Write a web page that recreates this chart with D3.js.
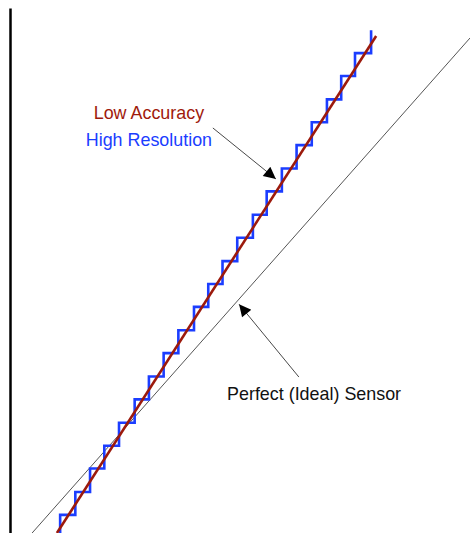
<!DOCTYPE html>
<html>
<head>
<meta charset="utf-8">
<script src="https://cdn.jsdelivr.net/npm/d3@7"></script>
<style>
  body { margin: 0; background: #fff; }
  svg { display: block; font-family: "Liberation Sans", Arial, sans-serif; }
</style>
</head>
<body>
<div id="chart"></div>
<script>
const width = 470, height = 533;

// input (true value) vs sensor output, both in % of full scale
const idealLine = [{ x: 0, y: 0 }, { x: 100, y: 100 }];
const accuracyLine = [{ x: 10.2, y: 4.8 }, { x: 79.6, y: 100.4 }];

// quantised reading: input where each code starts, and output level of each code
const stepInputs = [10.9, 14.2, 17.4, 20.5, 23.7, 27.1, 30.2, 33.4, 36.6, 40.0,
                    43.1, 46.2, 49.4, 52.8, 55.8, 59.1, 62.3, 65.6, 68.9, 72.0, 75.0, 78.5];
const stepLevels = [8.3, 12.7, 17.2, 21.6, 26.0, 30.5, 34.9, 39.4, 43.8, 48.3,
                    52.7, 57.1, 61.6, 66.0, 70.5, 74.9, 79.4, 83.8, 88.2, 92.7, 97.1];
const stepStart = 4.8, stepEnd = 101.5;

const labels = [
  { text: "Low Accuracy", x: 30.2, y: 84.4, color: "#a01a0c" },
  { text: "High Resolution", x: 30.2, y: 79.2, color: "#1b3dff" },
  { text: "Perfect (Ideal) Sensor", x: 66.1, y: 30.4, color: "#111" }
];
const arrows = [
  { from: [44.1, 82.7], to: [57.8, 72.9] },
  { from: [62.8, 34.8], to: [49.8, 48.8] }
];

const x = d3.scaleLinear().domain([0, 100]).range([10, 470]);
const y = d3.scaleLinear().domain([0, 105.77]).range([558, 8]);

const svg = d3.select("#chart")
  .append("svg")
  .attr("width", width)
  .attr("height", height);

svg.append("defs").append("marker")
  .attr("id", "head")
  .attr("viewBox", "0 0 10 10")
  .attr("refX", 10)
  .attr("refY", 5)
  .attr("markerUnits", "userSpaceOnUse")
  .attr("markerWidth", 15)
  .attr("markerHeight", 12)
  .attr("orient", "auto")
  .append("path")
  .attr("d", "M0,0L10,5L0,10Z")
  .attr("fill", "#000");

// left axis, no ticks
const axis = svg.append("g")
  .attr("transform", `translate(${x(0)},0)`)
  .call(d3.axisLeft(y).tickValues([]).tickSizeOuter(0));
axis.select(".domain").attr("stroke", "#000").attr("stroke-width", 2.5);

const line = d3.line()
  .x(d => x(d.x))
  .y(d => y(d.y));

svg.append("path")
  .datum(idealLine)
  .attr("fill", "none")
  .attr("stroke", "#555")
  .attr("stroke-width", 1)
  .attr("d", line);

const steps = [{ x: stepInputs[0], y: stepStart }];
stepLevels.forEach((lv, i) => steps.push({ x: stepInputs[i + 1], y: lv }));
steps.push({ x: stepInputs[stepInputs.length - 1], y: stepEnd });

svg.append("path")
  .datum(steps)
  .attr("fill", "none")
  .attr("stroke", "#1b3dff")
  .attr("stroke-width", 2.6)
  .attr("d", line.curve(d3.curveStepBefore));

svg.append("path")
  .datum(accuracyLine)
  .attr("fill", "none")
  .attr("stroke", "#9c1a0c")
  .attr("stroke-width", 2.6)
  .attr("d", line.curve(d3.curveLinear));

svg.selectAll(".arrow")
  .data(arrows)
  .enter()
  .append("line")
  .attr("class", "arrow")
  .attr("x1", d => x(d.from[0]))
  .attr("y1", d => y(d.from[1]))
  .attr("x2", d => x(d.to[0]))
  .attr("y2", d => y(d.to[1]))
  .attr("stroke", "#333")
  .attr("stroke-width", 0.9)
  .attr("marker-end", "url(#head)");

svg.selectAll(".label")
  .data(labels)
  .enter()
  .append("text")
  .attr("class", "label")
  .attr("x", d => x(d.x))
  .attr("y", d => y(d.y))
  .attr("text-anchor", "middle")
  .attr("fill", d => d.color)
  .style("font-size", "17.9px")
  .text(d => d.text);
</script>
</body>
</html>
